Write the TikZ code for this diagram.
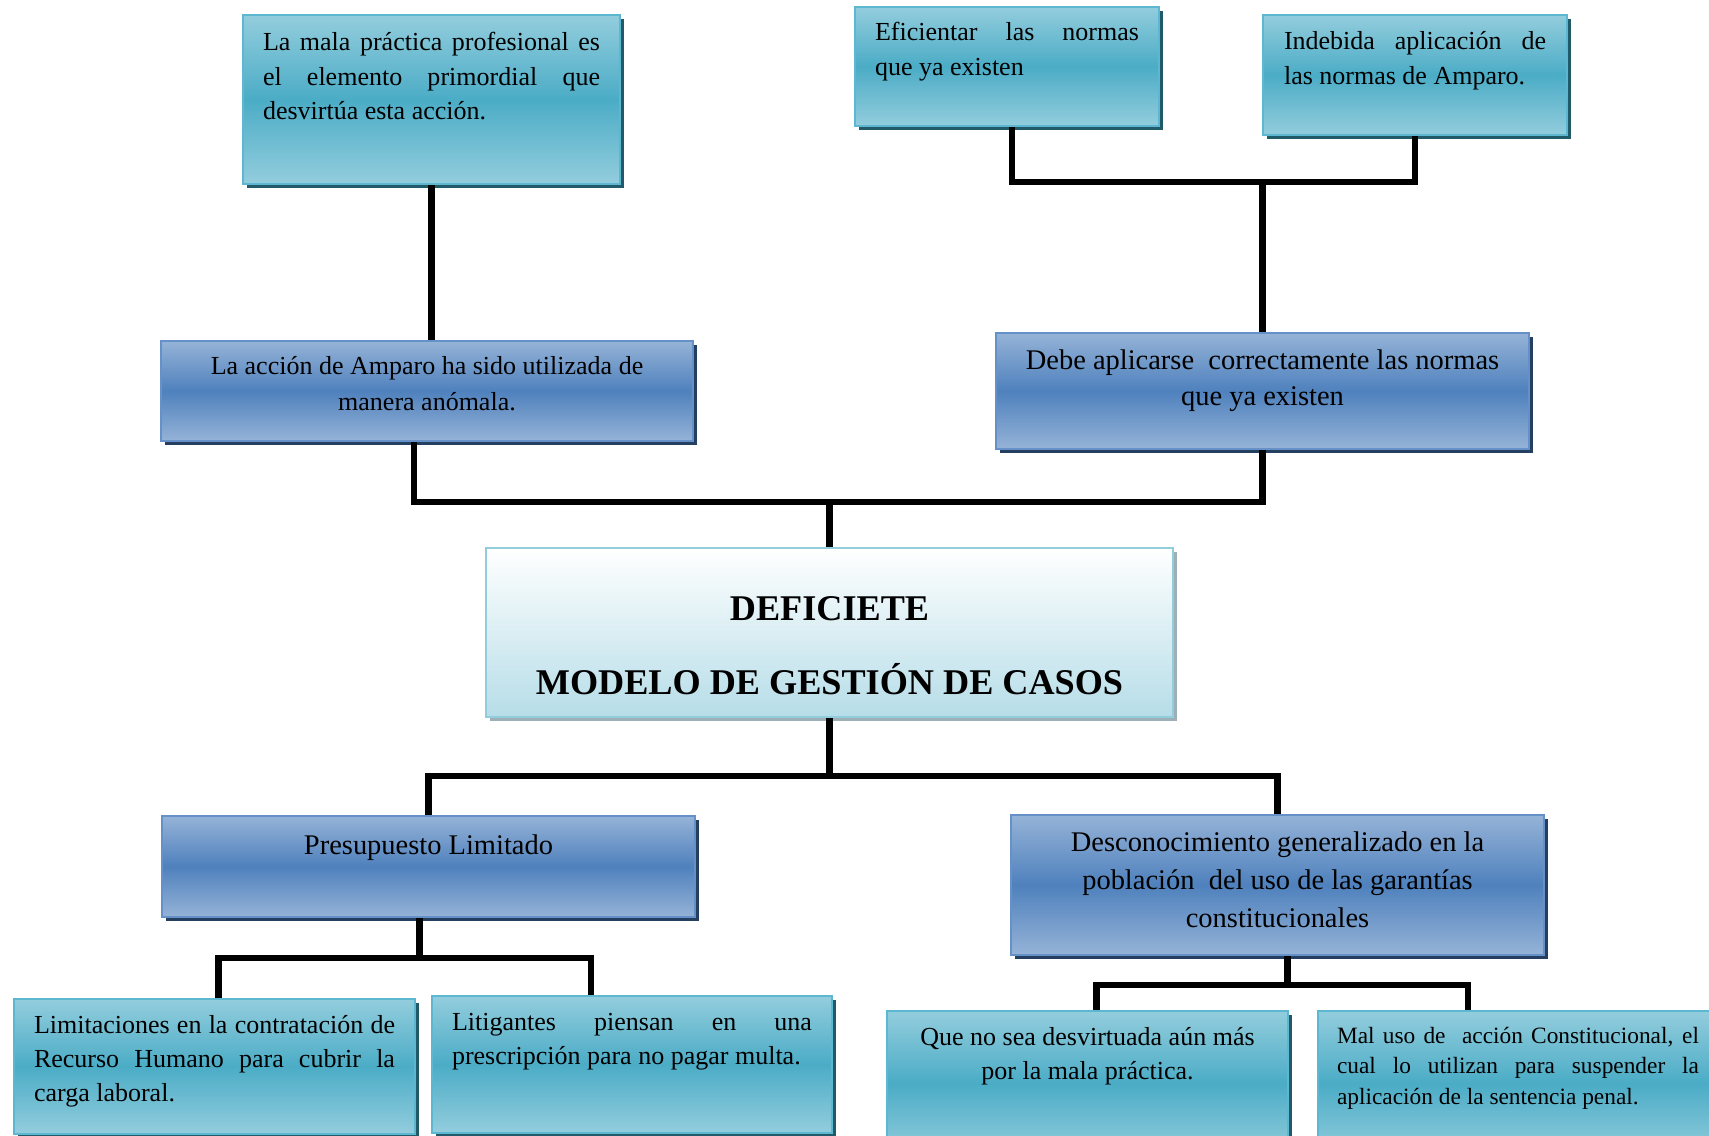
\documentclass[tikz,border=0pt]{standalone}
\usepackage{fontspec}
\setmainfont{Liberation Serif}
\usetikzlibrary{positioning}
\usetikzlibrary{shadows}

\definecolor{cyanlight}{HTML}{93CDDD}
\definecolor{cyandark}{HTML}{4BACC6}
\definecolor{cyanedge}{HTML}{5DB7D0}
\definecolor{cyanshade}{HTML}{215A69}
\definecolor{bluelight}{HTML}{95B3D7}
\definecolor{bluedark}{HTML}{4F81BD}
\definecolor{blueedge}{HTML}{6590C8}
\definecolor{blueshade}{HTML}{243F60}
\definecolor{titlelow}{HTML}{B6DDE8}
\definecolor{titleedge}{HTML}{92CDDC}
\definecolor{titleshade}{HTML}{9DB0B8}

\newlength\px
\setlength\px{0.02cm}
\hyphenpenalty=10000
\exhyphenpenalty=10000
\tolerance=10000

\newcommand{\cuadro}[4]{%
  \begin{minipage}[c][#2\px][t]{#1\px}
  \vspace*{\dimexpr#3\px-\ht\strutbox\relax}\strut#4
  \end{minipage}}

\begin{document}
\begin{tikzpicture}[x=\px,y=-\px,
                    enlace/.style={line width=6.5\px,draw=black}]
  \tikzstyle{celda}=[draw=cyanedge,line width=2\px,inner ysep=0pt,anchor=north west,
    top color=cyanlight,bottom color=cyanlight,middle color=cyandark,
    drop shadow={shadow xshift=4\px,shadow yshift=-4\px,fill=cyanshade,opacity=1},
    font=\fontsize{14.8}{19.6}\selectfont]
  \tikzstyle{causa}=[draw=blueedge,line width=2\px,inner ysep=0pt,anchor=north west,
    top color=bluelight,bottom color=bluelight,middle color=bluedark,
    drop shadow={shadow xshift=4\px,shadow yshift=-4\px,fill=blueshade,opacity=1},
    font=\fontsize{16.2}{22.6}\selectfont]
  \tikzstyle{titulo}=[draw=titleedge,line width=2\px,inner ysep=0pt,anchor=north west,
    top color=white,bottom color=titlelow,
    drop shadow={shadow xshift=4\px,shadow yshift=-4\px,fill=titleshade,opacity=1},
    font=\fontsize{20.6}{42.2}\selectfont\bfseries]
  \useasboundingbox (0,0) rectangle (1709,1135);

  \node[celda,inner xsep=20\px] (A) at (242,14)
    {\cuadro{337}{169}{36}{La mala práctica profesional es\linebreak el elemento primordial que\linebreak desvirtúa esta acción.}};
  \node[celda,inner xsep=20\px] (B) at (854,6)
    {\cuadro{264}{119}{34}{Eficientar las normas\linebreak que ya existen}};
  \node[celda,inner xsep=21\px] (C) at (1262,14)
    {\cuadro{262}{120}{35}{Indebida aplicación de\linebreak las normas de Amparo.}};
  \node[causa,inner xsep=10\px,font=\fontsize{14.8}{21}\selectfont] (D) at (160,340)
    {\cuadro{512}{100}{33}{\centering La acción de Amparo ha sido utilizada de\\ manera anómala.}};
  \node[causa,inner xsep=10\px,font=\fontsize{16.2}{21}\selectfont] (E) at (995,332)
    {\cuadro{513}{116}{36}{\centering Debe aplicarse~ correctamente las normas\\ que ya existen}};
  \node[titulo,inner xsep=10\px] (F) at (485,547)
    {\cuadro{667}{169}{72}{\centering DEFICIETE\\ MODELO DE GESTIÓN DE CASOS}};
  \node[causa,inner xsep=10\px] (G) at (161,815)
    {\cuadro{513}{101}{38}{\centering Presupuesto Limitado}};
  \node[causa,inner xsep=10\px,font=\fontsize{16.2}{21.9}\selectfont] (H) at (1010,814)
    {\cuadro{513}{140}{36}{\centering Desconocimiento generalizado en la\\ población~ del uso de las garantías\\ constitucionales}};
  \node[celda,inner xsep=20\px] (I) at (13,998)
    {\cuadro{361}{135}{34}{Limitaciones en la contratación de\linebreak Recurso Humano para cubrir la\linebreak carga laboral.}};
  \node[celda,inner xsep=20\px] (J) at (431,995)
    {\cuadro{360}{137}{34}{Litigantes piensan en una\linebreak \mbox{prescripción para no pagar multa.}}};
  \node[celda,inner xsep=10\px] (K) at (886,1010)
    {\cuadro{381}{145}{34}{\centering Que no sea desvirtuada aún más\\ por la mala práctica.}};
  \node[celda,inner xsep=19\px,font=\fontsize{13.3}{17.4}\selectfont] (L) at (1317,1010)
    {\cuadro{362}{145}{32}{Mal uso de~ acción Constitucional, el\linebreak cual lo utilizan para suspender la\linebreak aplicación de la sentencia penal.}};

  \path (E.north) ++(0,-150) coordinate (juntaSup);
  \path (F.north) ++(0,-45) coordinate (juntaMed);
  \path (F.south) ++(0,58) coordinate (juntaInf);
  \path ([xshift=-9\px]G.south) ++(0,40) coordinate (juntaIzq);
  \path ([xshift=10\px]H.south) ++(0,29) coordinate (juntaDer);

  \draw[enlace] (A.south) -- (A.south |- D.north);
  \draw[enlace] ([xshift=5\px]B.south) |- (juntaSup) -| (C.south);
  \draw[enlace] (juntaSup) -- (E.north);
  \draw[enlace] ([xshift=-13\px]D.south) |- (juntaMed) -| (E.south);
  \draw[enlace] (juntaMed) -- (F.north);
  \draw[enlace] (F.south) -- (juntaInf);
  \draw[enlace] (G.north) |- (juntaInf) -| (H.north);
  \draw[enlace] ([xshift=-9\px]G.south) -- (juntaIzq);
  \draw[enlace] ([xshift=4\px]I.north) |- (juntaIzq) -| ([xshift=-41\px]J.north);
  \draw[enlace] ([xshift=10\px]H.south) -- (juntaDer);
  \draw[enlace] ([xshift=9\px]K.north) |- (juntaDer) -| ([xshift=-50\px]L.north);
\end{tikzpicture}
\end{document}
